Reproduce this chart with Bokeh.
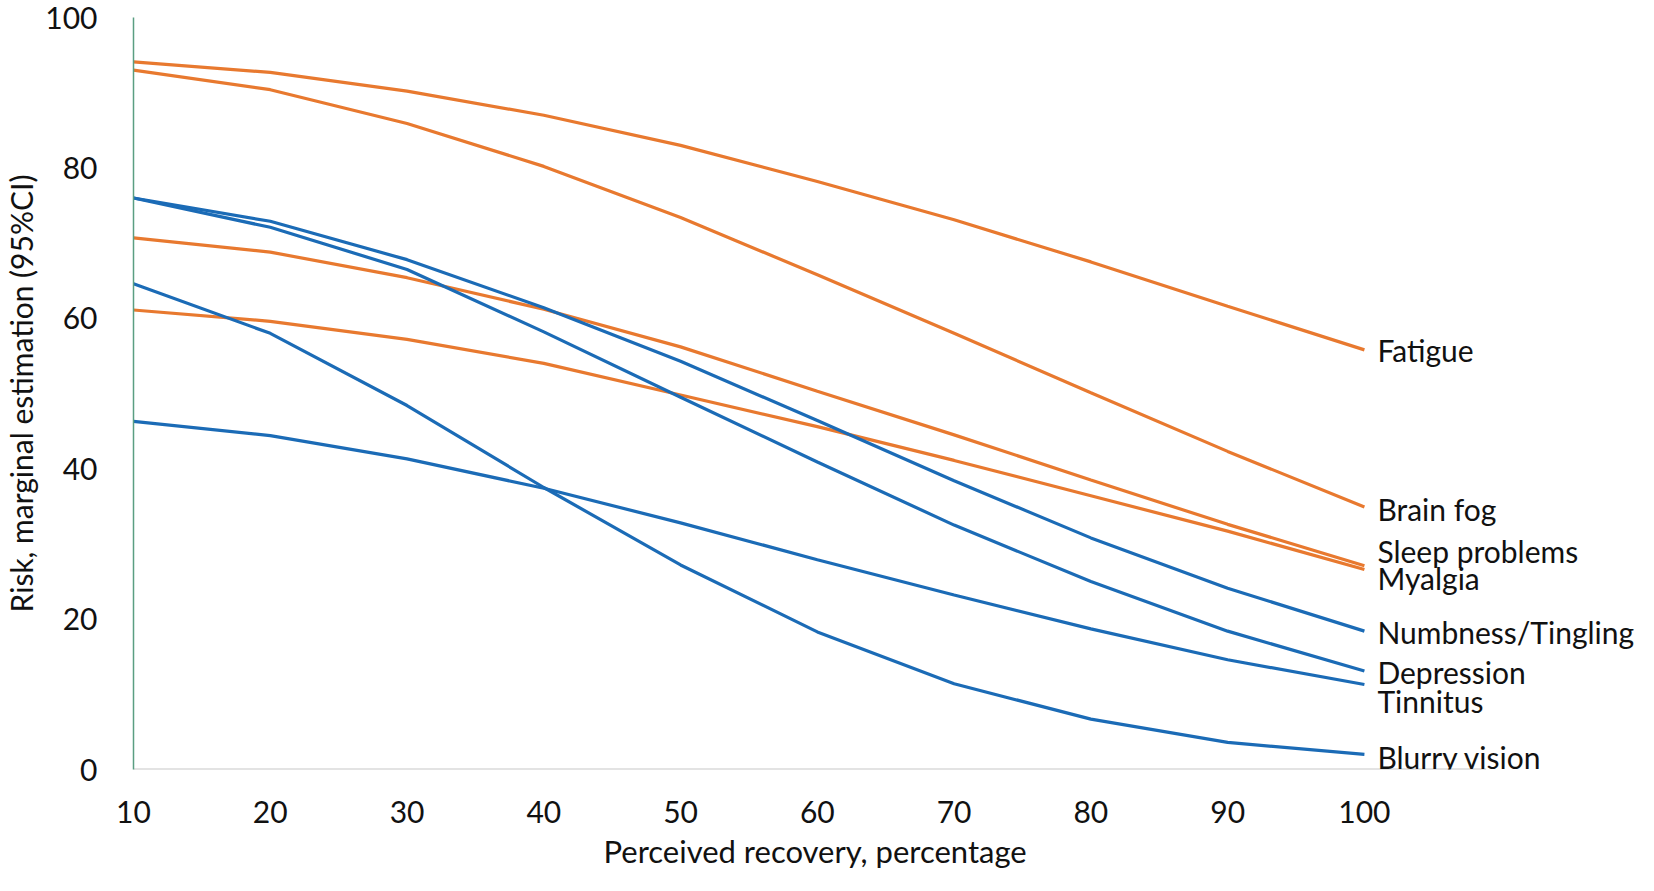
from bokeh.plotting import figure
from bokeh.models import ColumnDataSource, LabelSet, FixedTicker, Range1d, Title
from bokeh.core.properties import value
from bokeh.embed import file_html
from bokeh.resources import INLINE

recovery = [10, 20, 30, 40, 50, 60, 70, 80, 90, 100]

fatigue = [94.1, 92.7, 90.2, 87.0, 83.0, 78.2, 73.1, 67.5, 61.6, 55.8]
brain_fog = [93.0, 90.4, 85.9, 80.2, 73.4, 65.8, 58.0, 50.1, 42.3, 34.9]
sleep_problems = [70.7, 68.8, 65.4, 61.2, 56.2, 50.3, 44.5, 38.5, 32.6, 27.1]
myalgia = [61.1, 59.6, 57.2, 54.0, 49.8, 45.6, 41.1, 36.4, 31.7, 26.6]
numbness = [76.0, 72.9, 67.8, 61.4, 54.3, 46.4, 38.4, 30.8, 24.1, 18.4]
depression = [76.0, 72.1, 66.5, 58.2, 49.5, 40.9, 32.5, 25.0, 18.4, 13.1]
tinnitus = [46.3, 44.4, 41.3, 37.4, 32.8, 27.9, 23.2, 18.7, 14.6, 11.3]
blurry_vision = [64.6, 58.0, 48.4, 37.5, 27.2, 18.3, 11.4, 6.7, 3.6, 2.0]

series_names = ["Fatigue", "Brain fog", "Sleep problems", "Myalgia",
                "Numbness/Tingling", "Depression", "Tinnitus", "Blurry vision"]
series_values = [fatigue, brain_fog, sleep_problems, myalgia,
                 numbness, depression, tinnitus, blurry_vision]
series_group = ["orange", "orange", "orange", "orange", "blue", "blue", "blue", "blue"]

# label anchor heights (data units) where names sit next to line ends
label_y = [55.8, 34.7, 29.0, 25.4, 18.3, 13.0, 9.1, 1.7]

x_ticks = [10, 20, 30, 40, 50, 60, 70, 80, 90, 100]
y_ticks = [0, 20, 40, 60, 80, 100]
x_axis_extent = [10, 108.9]   # drawn extent of the horizontal axis line

COLORS = {"orange": "#E8792F", "blue": "#1B6BB6"}
FONT = "Lato"

p = figure(width=1638, height=875, output_backend="svg", toolbar_location=None,
           x_range=Range1d(10, 120.04), y_range=Range1d(0, 100),
           min_border_left=121, min_border_right=0, min_border_top=17,
           min_border_bottom=106)
p.outline_line_color = None
p.xgrid.visible = False
p.ygrid.visible = False
p.background_fill_color = "white"

# horizontal axis line (stops short of the labels, as in the original)
p.line(x_axis_extent, [0, 0], line_color="#C8C8C8", line_width=2)

for name, vals, grp in zip(series_names, series_values, series_group):
    p.line(recovery, vals, line_color=COLORS[grp], line_width=3.2)

lab_src = ColumnDataSource(dict(x=[recovery[-1]] * len(series_names), y=label_y,
                                text=series_names))
labels = LabelSet(x="x", y="y", text="text", source=lab_src, x_offset=13,
                  text_baseline="middle", text_align="left",
                  text_font=value(FONT), text_font_size=value("30px"),
                  text_color="#111111")
p.add_layout(labels)

p.xaxis.ticker = FixedTicker(ticks=x_ticks)
p.yaxis.ticker = FixedTicker(ticks=y_ticks)
for ax in (p.xaxis[0], p.yaxis[0]):
    ax.major_tick_line_color = None
    ax.minor_tick_line_color = None
    ax.major_label_text_font = FONT
    ax.major_label_text_font_size = "30px"
    ax.major_label_text_color = "#111111"
    ax.major_label_text_line_height = 1.0
    ax.axis_label_text_font = FONT
    ax.axis_label_text_font_size = "30px"
    ax.axis_label_text_font_style = "normal"
    ax.axis_label_text_color = "#111111"
    ax.axis_label_text_line_height = 1.0

p.xaxis.axis_line_color = None
p.yaxis.axis_label = "Risk, marginal estimation (95%CI)"
p.yaxis.axis_line_color = "#5A9E82"
p.yaxis.axis_line_width = 1.5
p.xaxis.major_label_standoff = 25
p.yaxis.major_label_standoff = 30
p.yaxis.axis_label_standoff = 3

xtitle = Title(text="Perceived recovery, percentage", align="left", offset=470,
               text_font=FONT, text_font_size="31px", text_font_style="normal",
               text_color="#111111", text_line_height=1.0, standoff=8)
p.add_layout(xtitle, "below")

open("out.html", "w").write(file_html(p, INLINE))
